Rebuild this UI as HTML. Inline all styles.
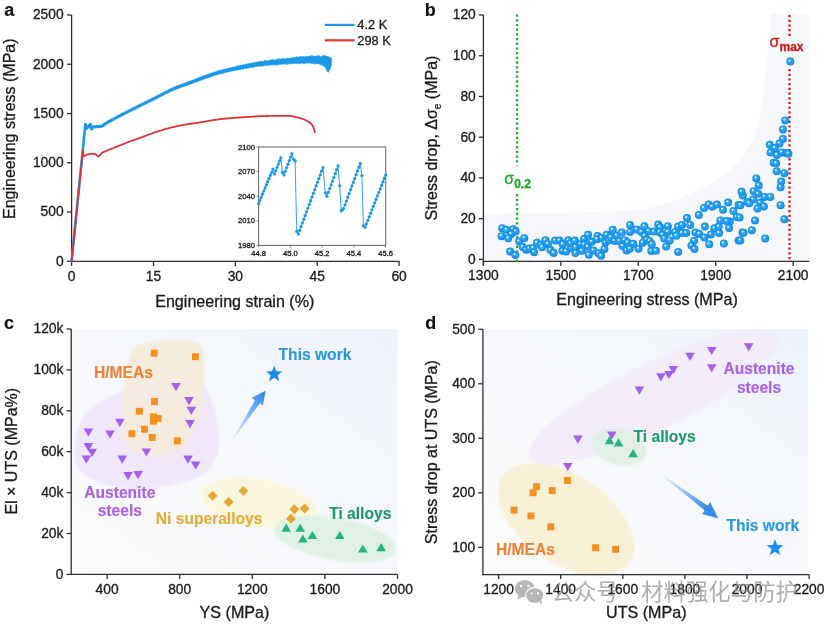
<!DOCTYPE html>
<html><head><meta charset="utf-8"><style>
html,body{margin:0;padding:0;background:#fff;overflow:hidden;width:827px;height:625px;}
svg{display:block;font-family:'Liberation Sans', Arial, Helvetica, sans-serif;}
</style></head><body>
<svg width="827" height="625" viewBox="0 0 827 625">
<rect width="827" height="625" fill="#fff"/>
<defs>
<radialGradient id="sph" cx="0.5" cy="0.5" r="0.5" fx="0.36" fy="0.33">
<stop offset="0" stop-color="#ffffff"/>
<stop offset="0.15" stop-color="#d8f1fe"/>
<stop offset="0.33" stop-color="#3aaaf4"/>
<stop offset="0.75" stop-color="#1a98ee"/>
<stop offset="1" stop-color="#1384e0"/>
</radialGradient>
<filter id="soft" x="-10%" y="-10%" width="120%" height="120%"><feGaussianBlur stdDeviation="0.9"/></filter>
<linearGradient id="bgc" x1="0" y1="1" x2="1" y2="0">
<stop offset="0" stop-color="#fbfbfc"/>
<stop offset="0.5" stop-color="#f6f8fb"/>
<stop offset="1" stop-color="#eef3fb"/>
</linearGradient>
<linearGradient id="bgd" x1="0" y1="1" x2="1" y2="0">
<stop offset="0" stop-color="#fbfbfc"/>
<stop offset="0.5" stop-color="#f6f8fb"/>
<stop offset="1" stop-color="#eef3fb"/>
</linearGradient>
<linearGradient id="arc" gradientUnits="userSpaceOnUse" x1="230" y1="443.5" x2="262" y2="396">
<stop offset="0" stop-color="#4a98ec" stop-opacity="0"/>
<stop offset="1" stop-color="#3a8eea" stop-opacity="1"/>
</linearGradient>
<linearGradient id="ard" gradientUnits="userSpaceOnUse" x1="658" y1="472" x2="705" y2="508">
<stop offset="0" stop-color="#4a98ec" stop-opacity="0"/>
<stop offset="1" stop-color="#3a8eea" stop-opacity="1"/>
</linearGradient>
</defs>
<text x="4.3" y="16.1" font-size="18" text-anchor="start" font-weight="bold" fill="#111" stroke="#111" stroke-width="0.15" >a</text>
<line x1="71.6" y1="15" x2="71.6" y2="262" stroke="#2e2e2e" stroke-width="1.3" />
<line x1="71" y1="261.4" x2="399.68" y2="261.4" stroke="#2e2e2e" stroke-width="1.3" />
<line x1="67" y1="261.3" x2="71.6" y2="261.3" stroke="#2e2e2e" stroke-width="1.3" />
<text x="63.6" y="265.6" font-size="13.8" text-anchor="end" font-weight="normal" fill="#1a1a1a" stroke="#1a1a1a" stroke-width="0.3" >0</text>
<line x1="67" y1="212.04" x2="71.6" y2="212.04" stroke="#2e2e2e" stroke-width="1.3" />
<text x="63.6" y="216.34" font-size="13.8" text-anchor="end" font-weight="normal" fill="#1a1a1a" stroke="#1a1a1a" stroke-width="0.3" >500</text>
<line x1="67" y1="162.77" x2="71.6" y2="162.77" stroke="#2e2e2e" stroke-width="1.3" />
<text x="63.6" y="167.07" font-size="13.8" text-anchor="end" font-weight="normal" fill="#1a1a1a" stroke="#1a1a1a" stroke-width="0.3" >1000</text>
<line x1="67" y1="113.51" x2="71.6" y2="113.51" stroke="#2e2e2e" stroke-width="1.3" />
<text x="63.6" y="117.81" font-size="13.8" text-anchor="end" font-weight="normal" fill="#1a1a1a" stroke="#1a1a1a" stroke-width="0.3" >1500</text>
<line x1="67" y1="64.24" x2="71.6" y2="64.24" stroke="#2e2e2e" stroke-width="1.3" />
<text x="63.6" y="68.54" font-size="13.8" text-anchor="end" font-weight="normal" fill="#1a1a1a" stroke="#1a1a1a" stroke-width="0.3" >2000</text>
<line x1="67" y1="14.98" x2="71.6" y2="14.98" stroke="#2e2e2e" stroke-width="1.3" />
<text x="63.6" y="19.28" font-size="13.8" text-anchor="end" font-weight="normal" fill="#1a1a1a" stroke="#1a1a1a" stroke-width="0.3" >2500</text>
<line x1="71.6" y1="261.4" x2="71.6" y2="265.9" stroke="#2e2e2e" stroke-width="1.3" />
<text x="71.6" y="280.6" font-size="13.8" text-anchor="middle" font-weight="normal" fill="#1a1a1a" stroke="#1a1a1a" stroke-width="0.3" >0</text>
<line x1="153.47" y1="261.4" x2="153.47" y2="265.9" stroke="#2e2e2e" stroke-width="1.3" />
<text x="153.47" y="280.6" font-size="13.8" text-anchor="middle" font-weight="normal" fill="#1a1a1a" stroke="#1a1a1a" stroke-width="0.3" >15</text>
<line x1="235.34" y1="261.4" x2="235.34" y2="265.9" stroke="#2e2e2e" stroke-width="1.3" />
<text x="235.34" y="280.6" font-size="13.8" text-anchor="middle" font-weight="normal" fill="#1a1a1a" stroke="#1a1a1a" stroke-width="0.3" >30</text>
<line x1="317.21" y1="261.4" x2="317.21" y2="265.9" stroke="#2e2e2e" stroke-width="1.3" />
<text x="317.21" y="280.6" font-size="13.8" text-anchor="middle" font-weight="normal" fill="#1a1a1a" stroke="#1a1a1a" stroke-width="0.3" >45</text>
<line x1="399.08" y1="261.4" x2="399.08" y2="265.9" stroke="#2e2e2e" stroke-width="1.3" />
<text x="399.08" y="280.6" font-size="13.8" text-anchor="middle" font-weight="normal" fill="#1a1a1a" stroke="#1a1a1a" stroke-width="0.3" >60</text>
<text x="234.8" y="306.6" font-size="16.1" text-anchor="middle" font-weight="normal" fill="#1a1a1a" stroke="#1a1a1a" stroke-width="0.3" >Engineering strain (%)</text>
<text transform="translate(15.2,128.7) rotate(-90)" font-size="16" text-anchor="middle" fill="#1a1a1a" stroke="#1a1a1a" stroke-width="0.3">Engineering stress (MPa)</text>
<line x1="324.8" y1="24.9" x2="354.6" y2="24.9" stroke="#1e96e6" stroke-width="2.2" />
<line x1="324.8" y1="40.3" x2="354.6" y2="40.3" stroke="#d93636" stroke-width="2.2" />
<text x="357.3" y="29.2" font-size="12.8" text-anchor="start" font-weight="normal" fill="#1a1a1a" stroke="#1a1a1a" stroke-width="0.3" >4.2 K</text>
<text x="357.3" y="44.6" font-size="12.8" text-anchor="start" font-weight="normal" fill="#1a1a1a" stroke="#1a1a1a" stroke-width="0.3" >298 K</text>
<line x1="71.6" y1="261.3" x2="85.3" y2="124.6" stroke="#1c98e8" stroke-width="2.6" stroke-linecap="round"/>
<polyline points="85.3,124.6 86.2,128.6 88.3,126.6 90.4,124.4 91.5,129 93.2,127 96,126.6 99.5,126.4 102.4,126 104.2,124.6" fill="none" stroke="#1c98e8" stroke-width="3.1" stroke-linejoin="round" stroke-linecap="round"/>
<polygon points="103.5,123.19 103.85,122.92 104.24,122.73 104.69,122.55 105.2,122.26 105.77,121.94 106.43,121.52 107.18,121.15 108.01,120.59 108.95,120.1 110,119.37 110.45,119.19 110.91,119.11 111.39,118.83 111.89,118.58 112.4,118.21 112.92,117.95 113.46,117.73 114.01,117.32 114.58,117.1 115.16,116.76 115.76,116.33 116.37,116.14 117,115.75 117.64,115.35 118.29,114.89 118.96,114.73 119.64,114.4 120.34,114.04 121.05,113.52 121.77,113.09 122.51,112.77 123.26,112.42 124.03,111.93 124.81,111.65 125.6,111.29 126.11,110.93 126.62,110.6 127.15,110.46 127.69,110.22 128.24,109.94 128.8,109.66 129.37,109.37 129.94,109.05 130.53,108.79 131.12,108.42 131.72,108.02 132.32,107.87 132.94,107.55 133.55,107.04 134.18,106.95 134.8,106.63 135.43,106.24 136.07,106.01 136.71,105.66 137.35,105.14 137.99,104.98 138.64,104.62 139.29,104.2 139.93,103.89 140.58,103.72 141.23,103.44 141.87,103.12 142.52,102.79 143.16,102.45 143.81,102.16 144.45,101.83 145.08,101.52 145.71,101.11 146.34,100.88 146.97,100.55 147.59,100.09 148.2,99.91 148.81,99.66 149.41,99.33 150,98.89 150.62,98.75 151.25,98.36 151.88,98.04 152.52,97.72 153.15,97.28 153.79,97.13 154.44,96.81 155.08,96.42 155.72,96.13 156.37,95.67 157.01,95.32 157.66,95 158.3,94.83 158.95,94.48 159.59,94.19 160.23,93.84 160.86,93.31 161.5,92.99 162.12,92.66 162.75,92.56 163.37,92.25 163.99,91.85 164.6,91.46 165.2,91.22 165.8,91.03 166.39,90.53 166.98,90.3 167.56,90.15 168.12,89.85 168.68,89.36 169.24,89.29 169.78,88.93 170.31,88.8 170.83,88.35 171.34,88.31 171.84,87.84 172.33,87.82 172.8,87.63 173.62,87.02 174.4,86.84 175.14,86.55 175.84,86.13 176.5,86.01 177.14,85.75 177.75,85.51 178.33,85.3 178.9,85.07 179.45,84.81 179.99,84.66 180.53,84.45 181.06,84.26 181.59,84.09 182.12,83.96 182.66,83.76 183.21,83.44 183.77,83.34 184.36,83.07 184.97,82.92 185.6,82.67 186.17,82.31 186.75,82.16 187.34,81.8 187.94,81.69 188.54,81.48 189.14,81.26 189.76,81.02 190.37,80.72 190.99,80.38 191.61,80.29 192.23,79.95 192.85,79.89 193.47,79.65 194.09,79.41 194.71,79.03 195.32,78.94 195.93,78.6 196.53,78.29 197.13,78.24 197.72,77.99 198.3,77.57 198.88,77.59 199.44,77.31 200,77.16 200.65,76.8 201.3,76.61 201.93,76.46 202.55,76.12 203.17,75.99 203.78,75.59 204.38,75.54 204.97,75.32 205.56,75.08 206.15,74.83 206.73,74.46 207.32,74.46 207.9,74.15 208.48,74.04 209.06,73.68 209.64,73.64 210.22,73.3 210.81,73.23 211.4,73.04 212,72.76 212.6,72.53 213.2,72.42 213.8,72.15 214.4,72.07 215,71.88 215.6,71.66 216.2,71.28 216.8,71.23 217.4,71.11 218,70.95 218.6,70.57 219.2,70.62 219.8,70.07 220.4,69.99 221,70.01 221.6,69.89 222.2,69.57 222.8,69.57 223.4,69.23 224,69.23 224.6,69.15 225.19,68.99 225.78,68.81 226.37,68.69 226.95,68.15 227.54,68.35 228.12,68.2 228.7,68.09 229.29,67.92 229.88,67.3 230.46,67.64 231.06,67.48 231.65,67.4 232.25,67.13 232.86,67.09 233.47,66.98 234.09,66.83 234.72,66.7 235.35,66.5 236,66.21 236.57,65.94 237.15,65.85 237.74,65.94 238.34,65.3 238.95,65.45 239.56,65.65 240.18,65.01 240.8,65.05 241.43,65.26 242.05,64.97 242.68,64.58 243.32,64.66 243.95,64.44 244.57,64.6 245.2,64.5 245.82,64.38 246.44,64.05 247.05,63.87 247.66,63.86 248.26,63.46 248.85,63.62 249.43,63.38 250,63.18 250.65,63.46 251.28,62.94 251.91,62.81 252.53,62.92 253.14,62.82 253.75,62.42 254.35,62.44 254.94,62.64 255.54,62.11 256.12,62.19 256.71,62.34 257.3,61.87 257.88,61.76 258.46,61.82 259.05,61.76 259.63,61.18 260.22,60.95 260.81,61.66 261.4,60.99 262,61.31 262.6,61.35 263.2,61.26 263.8,61.19 264.4,60.32 265,60.45 265.6,60.26 266.2,60.84 266.8,60.59 267.4,60.73 268,60.47 268.6,60.57 269.2,60.42 269.8,60.44 270.4,59.71 271,59.49 271.6,59.46 272.2,60.03 272.8,59.13 273.4,59.9 274,59.89 274.59,59.88 275.16,59.75 275.73,59.71 276.28,59.45 276.82,59.51 277.35,58.8 277.89,59.13 278.43,58.58 278.97,58.9 279.51,58.82 280.07,58.73 280.64,59.18 281.22,58.3 281.83,58.91 282.45,58.99 283.1,58 283.78,58.49 284.48,58.55 285.22,58.79 286,58.69 286.49,58.42 287.01,57.73 287.54,58.36 288.09,58.49 288.66,58.34 289.25,58.35 289.85,57.99 290.46,57.65 291.08,58.02 291.71,57.98 292.36,58.07 293,56.91 293.66,57.63 294.32,56.98 294.98,57.7 295.64,57.52 296.31,56.55 296.97,56.65 297.63,57.49 298.28,56.45 298.93,56.93 299.58,57.1 300.21,56.38 300.84,55.99 301.45,57.08 302.05,56.7 302.64,55.87 303.21,56.4 303.77,56.62 304.31,56.83 304.83,56.72 305.32,56.21 305.8,56.69 306.63,56.12 307.42,56.57 308.18,56.18 308.91,56.31 309.6,56 310.27,56.34 310.9,55.21 311.51,55.39 312.1,56.36 312.66,55.18 313.21,56.31 313.73,56.1 314.24,56.21 314.74,55.84 315.22,56.39 315.69,56.31 316.15,55.82 316.6,55.59 317.57,56.14 318.46,55.19 319.26,55.6 319.98,56.52 320.61,56.51 321.16,56.32 321.62,56.63 322,56.08 324,55.2 326,55.8 328,56.6 330,57.2 331.7,58.4 331.7,64.8 330.4,68 329,71.4 328.1,72.6 327,71 325.5,68 324,66.2 322,65.38 321.62,64.28 321.16,64.03 320.61,65.21 319.98,64.66 319.26,63.83 318.46,63.81 317.57,63.65 316.6,64.28 316.15,63.54 315.69,63.7 315.22,63.41 314.74,64.54 314.24,63.41 313.73,63.89 313.21,63.22 312.66,63.85 312.1,63.21 311.51,63.39 310.9,63.6 310.27,63.29 309.6,62.97 308.91,63.01 308.18,63.37 307.42,62.91 306.63,63.53 305.8,62.97 305.32,63.01 304.83,63.98 304.31,63.69 303.77,63.32 303.21,63.69 302.64,63.62 302.05,63.57 301.45,63.04 300.84,63.12 300.21,63.97 299.58,64.15 298.93,63.13 298.28,63.43 297.63,63.8 296.97,63.23 296.31,64.12 295.64,63.53 294.98,63.4 294.32,63.42 293.66,63.87 293,63.46 292.36,63.56 291.71,63.64 291.08,63.86 290.46,63.77 289.85,64.51 289.25,63.73 288.66,63.7 288.09,63.74 287.54,63.79 287.01,64.9 286.49,63.88 286,64.76 285.22,63.93 284.48,64.12 283.78,64.09 283.1,64.11 282.45,64.65 281.83,64.23 281.22,64.16 280.64,64.19 280.07,64.65 279.51,64.46 278.97,64.29 278.43,64.63 277.89,65.21 277.35,65.06 276.82,65.35 276.28,64.51 275.73,64.58 275.16,65.42 274.59,65.28 274,64.64 273.4,64.86 272.8,65.07 272.2,64.93 271.6,64.91 271,65.35 270.4,64.93 269.8,65.5 269.2,65.67 268.6,65.18 268,65.2 267.4,65.39 266.8,65.22 266.2,66 265.6,65.78 265,65.62 264.4,65.47 263.8,65.76 263.2,65.88 262.6,66.42 262,65.78 261.4,66.6 260.81,66.06 260.22,66.7 259.63,66.08 259.05,66.14 258.46,66.39 257.88,66.37 257.3,66.78 256.71,66.54 256.12,66.58 255.54,66.75 254.94,66.82 254.35,66.88 253.75,67.27 253.14,67.44 252.53,67.29 251.91,68.01 251.28,67.42 250.65,67.55 250,67.66 249.43,67.71 248.85,68.02 248.26,68.32 247.66,68.02 247.05,68.45 246.44,68.51 245.82,68.83 245.2,68.54 244.57,68.57 243.95,69.01 243.32,69.33 242.68,69.36 242.05,69.49 241.43,69.32 240.8,69.69 240.18,69.63 239.56,69.94 238.95,69.87 238.34,69.74 237.74,69.91 237.15,70.43 236.57,70.34 236,70.36 235.35,70.35 234.72,70.45 234.09,70.67 233.47,70.75 232.86,70.98 232.25,71.11 231.65,71.17 231.06,71.29 230.46,71.86 229.88,71.64 229.29,72.11 228.7,71.85 228.12,71.99 227.54,72.05 226.95,72.39 226.37,72.65 225.78,72.45 225.19,72.86 224.6,72.75 224,72.95 223.4,73.24 222.8,73.54 222.2,73.82 221.6,73.65 221,74.01 220.4,73.94 219.8,74.03 219.2,74.29 218.6,74.49 218,74.53 217.4,74.71 216.8,74.89 216.2,75.09 215.6,75.28 215,75.44 214.4,75.61 213.8,75.81 213.2,75.98 212.6,76.49 212,76.4 211.4,76.82 210.81,77.01 210.22,77.17 209.64,77.45 209.06,77.41 208.48,77.55 207.9,77.91 207.32,78.23 206.73,78.19 206.15,78.63 205.56,78.59 204.97,78.98 204.38,79.04 203.78,79.51 203.17,79.74 202.55,79.76 201.93,79.95 201.3,80.2 200.65,80.39 200,80.65 199.44,80.86 198.88,81.08 198.3,81.41 197.72,81.51 197.13,81.89 196.53,82.12 195.93,82.11 195.32,82.46 194.71,82.75 194.09,82.89 193.47,83.02 192.85,83.28 192.23,83.47 191.61,83.92 190.99,83.94 190.37,84.34 189.76,84.6 189.14,84.68 188.54,84.95 187.94,85.12 187.34,85.32 186.75,85.63 186.17,85.77 185.6,85.94 184.97,86.23 184.36,86.52 183.77,86.64 183.21,86.85 182.66,87.01 182.12,87.3 181.59,87.33 181.06,87.49 180.53,87.74 179.99,88.07 179.45,88.25 178.9,88.3 178.33,88.66 177.75,88.72 177.14,89 176.5,89.19 175.84,89.45 175.14,89.92 174.4,90.27 173.62,90.5 172.8,90.77 172.33,91.06 171.84,91.32 171.34,91.61 170.83,91.85 170.31,91.94 169.78,92.2 169.24,92.68 168.68,92.76 168.12,93.16 167.56,93.43 166.98,93.62 166.39,94 165.8,94.25 165.2,94.6 164.6,94.81 163.99,95.26 163.37,95.38 162.75,95.69 162.12,96.03 161.5,96.56 160.86,96.69 160.23,97.08 159.59,97.3 158.95,97.61 158.3,98.01 157.66,98.4 157.01,98.76 156.37,99.16 155.72,99.26 155.08,99.73 154.44,100.05 153.79,100.26 153.15,100.67 152.52,101.11 151.88,101.19 151.25,101.52 150.62,102.05 150,102.14 149.41,102.45 148.81,102.74 148.2,103.09 147.59,103.59 146.97,103.65 146.34,103.99 145.71,104.27 145.08,104.77 144.45,104.93 143.81,105.22 143.16,105.53 142.52,105.86 141.87,106.17 141.23,106.59 140.58,106.85 139.93,107.29 139.29,107.61 138.64,107.78 137.99,108.19 137.35,108.53 136.71,108.81 136.07,109.09 135.43,109.38 134.8,109.74 134.18,110.01 133.55,110.31 132.94,110.81 132.32,110.96 131.72,111.41 131.12,111.71 130.53,111.87 129.94,112.3 129.37,112.41 128.8,112.83 128.24,112.97 127.69,113.3 127.15,113.63 126.62,113.81 126.11,114.3 125.6,114.43 124.81,114.82 124.03,115.34 123.26,115.56 122.51,115.99 121.77,116.31 121.05,116.75 120.34,117.15 119.64,117.47 118.96,117.91 118.29,118.13 117.64,118.49 117,119.01 116.37,119.23 115.76,119.6 115.16,119.82 114.58,120.2 114.01,120.47 113.46,120.73 112.92,121.01 112.4,121.33 111.89,121.65 111.39,122 110.91,122.1 110.45,122.37 110,122.59 108.95,123.19 108.01,123.89 107.18,124.14 106.43,124.71 105.77,124.9 105.2,125.27 104.69,125.58 104.24,125.8 103.85,125.99 103.5,126.19" fill="#1c98e8" stroke="#1c98e8" stroke-width="0.4" stroke-linejoin="round"/>
<polyline points="71.6,261.3 83,150 83.6,156 83.99,156.22 84.47,156.03 85.04,155.62 85.72,155.15 86.5,154.8 86.91,154.69 87.37,154.57 87.86,154.44 88.39,154.32 88.93,154.19 89.48,154.07 90.03,153.96 90.57,153.87 91.08,153.79 91.56,153.73 92,153.7 92.62,153.7 93.19,153.73 93.71,153.81 94.21,153.92 94.68,154.06 95.14,154.22 95.6,154.4 96.22,154.79 96.79,155.33 97.34,155.86 97.91,156.24 98.5,156.3 99.07,156 99.69,155.43 100.33,154.72 100.93,153.98 101.44,153.33 101.8,152.9 102.09,152.77 102.45,152.61 102.86,152.42 103.33,152.21 103.84,151.98 104.38,151.74 104.94,151.48 105.53,151.22 106.13,150.95 106.73,150.69 107.32,150.42 107.9,150.17 108.47,149.93 109,149.7 109.52,149.48 110.04,149.27 110.56,149.06 111.08,148.85 111.6,148.64 112.13,148.43 112.65,148.22 113.17,148.02 113.7,147.82 114.22,147.61 114.74,147.41 115.26,147.21 115.78,147 116.3,146.8 116.82,146.6 117.33,146.4 117.85,146.2 118.36,146 118.87,145.8 119.39,145.6 119.9,145.4 120.41,145.2 120.93,145 121.44,144.8 121.95,144.6 122.47,144.4 122.98,144.2 123.5,144 124.01,143.8 124.52,143.59 125.02,143.39 125.52,143.19 126.02,142.98 126.52,142.78 127.03,142.57 127.53,142.37 128.05,142.16 128.57,141.95 129.11,141.74 129.66,141.53 130.22,141.32 130.8,141.1 131.26,140.93 131.71,140.77 132.16,140.61 132.61,140.45 133.07,140.29 133.53,140.14 133.99,139.98 134.47,139.82 134.95,139.66 135.44,139.49 135.95,139.32 136.47,139.14 137.01,138.96 137.56,138.76 138.14,138.56 138.73,138.35 139.35,138.13 140,137.9 140.41,137.75 140.84,137.59 141.28,137.43 141.73,137.26 142.19,137.09 142.66,136.91 143.13,136.73 143.62,136.54 144.11,136.35 144.61,136.16 145.11,135.97 145.62,135.77 146.14,135.57 146.66,135.37 147.18,135.17 147.71,134.97 148.23,134.77 148.76,134.57 149.29,134.37 149.82,134.18 150.35,133.98 150.88,133.78 151.41,133.59 151.93,133.4 152.46,133.21 152.97,133.03 153.49,132.85 154,132.67 154.5,132.5 155,132.33 155.5,132.16 156,132 156.5,131.83 157,131.67 157.5,131.5 158,131.34 158.5,131.18 159,131.02 159.5,130.86 160,130.7 160.5,130.55 161,130.39 161.5,130.24 162,130.09 162.5,129.94 163,129.79 163.5,129.64 164,129.49 164.5,129.34 165,129.2 165.5,129.06 166,128.92 166.5,128.78 167,128.64 167.5,128.5 168,128.37 168.5,128.23 169,128.1 169.5,127.97 170,127.84 170.49,127.72 170.98,127.59 171.48,127.47 171.97,127.35 172.46,127.23 172.94,127.11 173.43,127 173.92,126.88 174.41,126.77 174.9,126.66 175.39,126.54 175.88,126.44 176.37,126.33 176.86,126.22 177.36,126.11 177.85,126.01 178.35,125.9 178.85,125.8 179.36,125.7 179.86,125.6 180.37,125.5 180.88,125.4 181.4,125.3 181.92,125.2 182.44,125.1 182.97,125 183.5,124.9 183.97,124.81 184.45,124.73 184.93,124.65 185.42,124.56 185.91,124.48 186.41,124.4 186.9,124.32 187.41,124.25 187.91,124.17 188.42,124.09 188.93,124.01 189.44,123.94 189.95,123.86 190.46,123.79 190.98,123.72 191.49,123.64 192.01,123.57 192.52,123.5 193.04,123.42 193.55,123.35 194.06,123.28 194.57,123.21 195.08,123.14 195.59,123.06 196.09,122.99 196.6,122.92 197.09,122.85 197.59,122.77 198.08,122.7 198.57,122.62 199.05,122.55 199.53,122.48 200,122.4 200.53,122.31 201.06,122.23 201.58,122.14 202.1,122.05 202.62,121.96 203.13,121.87 203.64,121.78 204.14,121.69 204.65,121.59 205.15,121.5 205.65,121.41 206.14,121.32 206.64,121.23 207.13,121.14 207.62,121.05 208.11,120.96 208.6,120.87 209.09,120.78 209.58,120.7 210.07,120.61 210.56,120.52 211.04,120.44 211.53,120.36 212.02,120.28 212.52,120.2 213.01,120.12 213.5,120.05 214,119.97 214.5,119.9 215,119.83 215.5,119.76 216,119.69 216.5,119.63 217,119.56 217.5,119.5 218,119.44 218.5,119.38 219,119.32 219.5,119.26 220,119.21 220.5,119.15 221,119.09 221.5,119.04 222,118.99 222.5,118.93 223,118.88 223.5,118.83 224,118.78 224.5,118.73 225,118.68 225.5,118.63 226,118.58 226.5,118.54 227,118.49 227.5,118.44 228,118.39 228.5,118.35 229,118.3 229.5,118.25 230,118.21 230.49,118.16 230.98,118.12 231.48,118.08 231.97,118.04 232.46,118 232.94,117.96 233.43,117.92 233.92,117.88 234.41,117.84 234.9,117.8 235.39,117.77 235.88,117.73 236.37,117.69 236.86,117.66 237.36,117.62 237.85,117.59 238.35,117.55 238.85,117.52 239.36,117.48 239.86,117.45 240.37,117.41 240.88,117.38 241.4,117.34 241.92,117.31 242.44,117.27 242.97,117.24 243.5,117.2 243.97,117.17 244.45,117.14 244.93,117.1 245.42,117.07 245.91,117.04 246.41,117 246.9,116.97 247.41,116.94 247.91,116.9 248.42,116.87 248.93,116.83 249.44,116.8 249.95,116.77 250.46,116.73 250.98,116.7 251.49,116.67 252.01,116.63 252.52,116.6 253.04,116.57 253.55,116.54 254.06,116.51 254.57,116.48 255.08,116.45 255.59,116.42 256.09,116.39 256.6,116.36 257.09,116.34 257.59,116.31 258.08,116.29 258.57,116.26 259.05,116.24 259.53,116.22 260,116.2 260.53,116.18 261.06,116.16 261.58,116.14 262.1,116.12 262.62,116.1 263.13,116.09 263.64,116.07 264.14,116.06 264.65,116.05 265.15,116.03 265.65,116.02 266.14,116.01 266.64,116 267.13,115.99 267.62,115.98 268.11,115.98 268.6,115.97 269.09,115.96 269.58,115.95 270.07,115.95 270.56,115.94 271.04,115.94 271.53,115.93 272.02,115.93 272.52,115.92 273.01,115.92 273.5,115.91 274,115.91 274.5,115.9 275,115.89 275.52,115.89 276.03,115.88 276.56,115.87 277.09,115.87 277.62,115.86 278.16,115.85 278.7,115.84 279.24,115.83 279.78,115.83 280.32,115.82 280.86,115.81 281.4,115.81 281.93,115.8 282.46,115.8 282.99,115.79 283.51,115.79 284.03,115.79 284.53,115.79 285.03,115.79 285.52,115.8 286,115.8 286.47,115.81 286.93,115.82 287.37,115.83 287.8,115.84 288.22,115.86 288.62,115.88 289,115.9 289.74,115.95 290.42,116.01 291.04,116.08 291.61,116.16 292.14,116.24 292.64,116.33 293.11,116.43 293.56,116.53 294,116.63 294.43,116.74 294.87,116.85 295.33,116.97 295.8,117.08 296.3,117.2 296.82,117.32 297.36,117.45 297.9,117.58 298.44,117.71 298.99,117.85 299.53,117.99 300.08,118.14 300.61,118.29 301.13,118.43 301.64,118.59 302.14,118.74 302.61,118.89 303.07,119.05 303.5,119.2 304.13,119.44 304.71,119.7 305.26,119.96 305.78,120.22 306.26,120.49 306.73,120.75 307.17,121.01 307.59,121.26 308,121.5 308.68,121.88 309.26,122.22 309.79,122.55 310.29,122.93 310.8,123.4 311.45,124.1 312.08,124.88 312.67,125.77 313.2,126.8 313.85,128.68 314.41,130.8 314.8,132.3" fill="none" stroke="#dc3434" stroke-width="1.8" stroke-linejoin="round" stroke-linecap="round"/>
<rect x="258.6" y="147.0" width="127.1" height="98.4" fill="#fff" stroke="#707070" stroke-width="1.1"/>
<line x1="256.6" y1="245.4" x2="258.6" y2="245.4" stroke="#666" stroke-width="0.9" />
<text x="255" y="247.9" font-size="7.6" text-anchor="end" font-weight="normal" fill="#1a1a1a" stroke="#1a1a1a" stroke-width="0.3" >1980</text>
<line x1="256.6" y1="220.8" x2="258.6" y2="220.8" stroke="#666" stroke-width="0.9" />
<text x="255" y="223.3" font-size="7.6" text-anchor="end" font-weight="normal" fill="#1a1a1a" stroke="#1a1a1a" stroke-width="0.3" >2010</text>
<line x1="256.6" y1="196.2" x2="258.6" y2="196.2" stroke="#666" stroke-width="0.9" />
<text x="255" y="198.7" font-size="7.6" text-anchor="end" font-weight="normal" fill="#1a1a1a" stroke="#1a1a1a" stroke-width="0.3" >2040</text>
<line x1="256.6" y1="171.6" x2="258.6" y2="171.6" stroke="#666" stroke-width="0.9" />
<text x="255" y="174.1" font-size="7.6" text-anchor="end" font-weight="normal" fill="#1a1a1a" stroke="#1a1a1a" stroke-width="0.3" >2070</text>
<line x1="256.6" y1="147" x2="258.6" y2="147" stroke="#666" stroke-width="0.9" />
<text x="255" y="149.5" font-size="7.6" text-anchor="end" font-weight="normal" fill="#1a1a1a" stroke="#1a1a1a" stroke-width="0.3" >2100</text>
<line x1="258.6" y1="245.4" x2="258.6" y2="247.4" stroke="#666" stroke-width="0.9" />
<text x="258.6" y="255.6" font-size="7.6" text-anchor="middle" font-weight="normal" fill="#1a1a1a" stroke="#1a1a1a" stroke-width="0.3" >44.8</text>
<line x1="290.38" y1="245.4" x2="290.38" y2="247.4" stroke="#666" stroke-width="0.9" />
<text x="290.38" y="255.6" font-size="7.6" text-anchor="middle" font-weight="normal" fill="#1a1a1a" stroke="#1a1a1a" stroke-width="0.3" >45.0</text>
<line x1="322.15" y1="245.4" x2="322.15" y2="247.4" stroke="#666" stroke-width="0.9" />
<text x="322.15" y="255.6" font-size="7.6" text-anchor="middle" font-weight="normal" fill="#1a1a1a" stroke="#1a1a1a" stroke-width="0.3" >45.2</text>
<line x1="353.93" y1="245.4" x2="353.93" y2="247.4" stroke="#666" stroke-width="0.9" />
<text x="353.93" y="255.6" font-size="7.6" text-anchor="middle" font-weight="normal" fill="#1a1a1a" stroke="#1a1a1a" stroke-width="0.3" >45.4</text>
<line x1="385.7" y1="245.4" x2="385.7" y2="247.4" stroke="#666" stroke-width="0.9" />
<text x="385.7" y="255.6" font-size="7.6" text-anchor="middle" font-weight="normal" fill="#1a1a1a" stroke="#1a1a1a" stroke-width="0.3" >45.6</text>
<polyline points="258.6,203.58 259.9,200.45 261.2,197.32 262.5,194.19 263.8,191.06 265.1,187.93 266.4,184.79 267.7,181.66 269,178.53 270.3,175.4 271.6,172.27 272.9,169.14 274.49,174.06 275.76,170.78 277.03,167.5 278.3,164.22 279.57,160.94 280.84,157.66 282.43,172.42 284.02,174.88 285.34,171.33 286.67,167.77 287.99,164.22 289.32,160.67 290.64,157.11 291.96,153.56 293.55,159.3 295.14,160.94 296.73,231.46 298.32,233.92 299.69,230.23 301.05,226.54 302.42,222.85 303.79,219.16 305.16,215.47 306.53,211.78 307.9,208.09 309.26,204.4 310.63,200.71 312,197.02 313.37,193.33 314.74,189.64 316.1,185.95 317.47,182.26 318.84,178.57 320.21,174.88 321.58,171.19 322.94,167.5 325.33,192.92 326.92,196.2 328.31,192.41 329.7,188.62 331.09,184.82 332.48,181.03 333.87,177.24 335.26,173.44 336.65,169.65 338.04,165.86 339.63,185.54 341.22,210.96 342.41,209.73 343.6,208.5 344.99,204.74 346.38,200.98 347.77,197.22 349.16,193.47 350.55,189.71 351.94,185.95 353.33,182.19 354.72,178.43 356.11,174.68 357.5,170.92 358.89,167.16 360.28,163.4 361.87,175.7 363.46,225.72 365.05,227.36 366.42,223.86 367.8,220.36 369.18,216.86 370.55,213.37 371.93,209.87 373.31,206.37 374.68,202.87 376.06,199.37 377.44,195.87 378.82,192.37 380.19,188.87 381.57,185.38 382.95,181.88 384.32,178.38 385.7,174.88" fill="none" stroke="#1c98e8" stroke-width="0.9"/>
<g fill="#1c98e8"><circle cx="258.6" cy="203.58" r="1.6"/><circle cx="259.9" cy="200.45" r="1.6"/><circle cx="261.2" cy="197.32" r="1.6"/><circle cx="262.5" cy="194.19" r="1.6"/><circle cx="263.8" cy="191.06" r="1.6"/><circle cx="265.1" cy="187.93" r="1.6"/><circle cx="266.4" cy="184.79" r="1.6"/><circle cx="267.7" cy="181.66" r="1.6"/><circle cx="269" cy="178.53" r="1.6"/><circle cx="270.3" cy="175.4" r="1.6"/><circle cx="271.6" cy="172.27" r="1.6"/><circle cx="272.9" cy="169.14" r="1.6"/><circle cx="274.49" cy="174.06" r="1.6"/><circle cx="275.76" cy="170.78" r="1.6"/><circle cx="277.03" cy="167.5" r="1.6"/><circle cx="278.3" cy="164.22" r="1.6"/><circle cx="279.57" cy="160.94" r="1.6"/><circle cx="280.84" cy="157.66" r="1.6"/><circle cx="282.43" cy="172.42" r="1.6"/><circle cx="284.02" cy="174.88" r="1.6"/><circle cx="285.34" cy="171.33" r="1.6"/><circle cx="286.67" cy="167.77" r="1.6"/><circle cx="287.99" cy="164.22" r="1.6"/><circle cx="289.32" cy="160.67" r="1.6"/><circle cx="290.64" cy="157.11" r="1.6"/><circle cx="291.96" cy="153.56" r="1.6"/><circle cx="293.55" cy="159.3" r="1.6"/><circle cx="295.14" cy="160.94" r="1.6"/><circle cx="296.73" cy="231.46" r="1.6"/><circle cx="298.32" cy="233.92" r="1.6"/><circle cx="299.69" cy="230.23" r="1.6"/><circle cx="301.05" cy="226.54" r="1.6"/><circle cx="302.42" cy="222.85" r="1.6"/><circle cx="303.79" cy="219.16" r="1.6"/><circle cx="305.16" cy="215.47" r="1.6"/><circle cx="306.53" cy="211.78" r="1.6"/><circle cx="307.9" cy="208.09" r="1.6"/><circle cx="309.26" cy="204.4" r="1.6"/><circle cx="310.63" cy="200.71" r="1.6"/><circle cx="312" cy="197.02" r="1.6"/><circle cx="313.37" cy="193.33" r="1.6"/><circle cx="314.74" cy="189.64" r="1.6"/><circle cx="316.1" cy="185.95" r="1.6"/><circle cx="317.47" cy="182.26" r="1.6"/><circle cx="318.84" cy="178.57" r="1.6"/><circle cx="320.21" cy="174.88" r="1.6"/><circle cx="321.58" cy="171.19" r="1.6"/><circle cx="322.94" cy="167.5" r="1.6"/><circle cx="325.33" cy="192.92" r="1.6"/><circle cx="326.92" cy="196.2" r="1.6"/><circle cx="328.31" cy="192.41" r="1.6"/><circle cx="329.7" cy="188.62" r="1.6"/><circle cx="331.09" cy="184.82" r="1.6"/><circle cx="332.48" cy="181.03" r="1.6"/><circle cx="333.87" cy="177.24" r="1.6"/><circle cx="335.26" cy="173.44" r="1.6"/><circle cx="336.65" cy="169.65" r="1.6"/><circle cx="338.04" cy="165.86" r="1.6"/><circle cx="339.63" cy="185.54" r="1.6"/><circle cx="341.22" cy="210.96" r="1.6"/><circle cx="342.41" cy="209.73" r="1.6"/><circle cx="343.6" cy="208.5" r="1.6"/><circle cx="344.99" cy="204.74" r="1.6"/><circle cx="346.38" cy="200.98" r="1.6"/><circle cx="347.77" cy="197.22" r="1.6"/><circle cx="349.16" cy="193.47" r="1.6"/><circle cx="350.55" cy="189.71" r="1.6"/><circle cx="351.94" cy="185.95" r="1.6"/><circle cx="353.33" cy="182.19" r="1.6"/><circle cx="354.72" cy="178.43" r="1.6"/><circle cx="356.11" cy="174.68" r="1.6"/><circle cx="357.5" cy="170.92" r="1.6"/><circle cx="358.89" cy="167.16" r="1.6"/><circle cx="360.28" cy="163.4" r="1.6"/><circle cx="361.87" cy="175.7" r="1.6"/><circle cx="363.46" cy="225.72" r="1.6"/><circle cx="365.05" cy="227.36" r="1.6"/><circle cx="366.42" cy="223.86" r="1.6"/><circle cx="367.8" cy="220.36" r="1.6"/><circle cx="369.18" cy="216.86" r="1.6"/><circle cx="370.55" cy="213.37" r="1.6"/><circle cx="371.93" cy="209.87" r="1.6"/><circle cx="373.31" cy="206.37" r="1.6"/><circle cx="374.68" cy="202.87" r="1.6"/><circle cx="376.06" cy="199.37" r="1.6"/><circle cx="377.44" cy="195.87" r="1.6"/><circle cx="378.82" cy="192.37" r="1.6"/><circle cx="380.19" cy="188.87" r="1.6"/><circle cx="381.57" cy="185.38" r="1.6"/><circle cx="382.95" cy="181.88" r="1.6"/><circle cx="384.32" cy="178.38" r="1.6"/><circle cx="385.7" cy="174.88" r="1.6"/></g>
<text x="424.8" y="16.1" font-size="18" text-anchor="start" font-weight="bold" fill="#111" stroke="#111" stroke-width="0.15" >b</text>
<path d="M483.5,261.4 L483.5,213.5 C489.58,213.5 507.25,213.58 520,213.5 C532.75,213.42 546.67,213.28 560,213 C573.33,212.72 586.67,212.38 600,211.8 C613.33,211.22 629.67,210.72 640,209.5 C650.33,208.28 655.33,206.42 662,204.5 C668.67,202.58 673.67,200.58 680,198 C686.33,195.42 693.33,192.33 700,189 C706.67,185.67 713.33,182.83 720,178 C726.67,173.17 735,165.5 740,160 C745,154.5 747.5,149.33 750,145 C752.5,140.67 753.5,138.17 755,134 C756.5,129.83 757.75,125.67 759,120 C760.25,114.33 761.5,106.67 762.5,100 C763.5,93.33 764.17,87.5 765,80 C765.83,72.5 766.38,66 767.5,55 C768.62,44 771,20.83 771.7,14 L808.6,14 L808.6,261.4 Z" fill="#f5f7fa"/>
<line x1="483.4" y1="15" x2="483.4" y2="266" stroke="#2e2e2e" stroke-width="1.3" />
<line x1="482.8" y1="261.4" x2="809.3" y2="261.4" stroke="#2e2e2e" stroke-width="1.3" />
<line x1="478.8" y1="259.4" x2="483.4" y2="259.4" stroke="#2e2e2e" stroke-width="1.3" />
<text x="475.8" y="263.7" font-size="13.8" text-anchor="end" font-weight="normal" fill="#1a1a1a" stroke="#1a1a1a" stroke-width="0.3" >0</text>
<line x1="478.8" y1="218.67" x2="483.4" y2="218.67" stroke="#2e2e2e" stroke-width="1.3" />
<text x="475.8" y="222.97" font-size="13.8" text-anchor="end" font-weight="normal" fill="#1a1a1a" stroke="#1a1a1a" stroke-width="0.3" >20</text>
<line x1="478.8" y1="177.93" x2="483.4" y2="177.93" stroke="#2e2e2e" stroke-width="1.3" />
<text x="475.8" y="182.23" font-size="13.8" text-anchor="end" font-weight="normal" fill="#1a1a1a" stroke="#1a1a1a" stroke-width="0.3" >40</text>
<line x1="478.8" y1="137.2" x2="483.4" y2="137.2" stroke="#2e2e2e" stroke-width="1.3" />
<text x="475.8" y="141.5" font-size="13.8" text-anchor="end" font-weight="normal" fill="#1a1a1a" stroke="#1a1a1a" stroke-width="0.3" >60</text>
<line x1="478.8" y1="96.46" x2="483.4" y2="96.46" stroke="#2e2e2e" stroke-width="1.3" />
<text x="475.8" y="100.76" font-size="13.8" text-anchor="end" font-weight="normal" fill="#1a1a1a" stroke="#1a1a1a" stroke-width="0.3" >80</text>
<line x1="478.8" y1="55.73" x2="483.4" y2="55.73" stroke="#2e2e2e" stroke-width="1.3" />
<text x="475.8" y="60.03" font-size="13.8" text-anchor="end" font-weight="normal" fill="#1a1a1a" stroke="#1a1a1a" stroke-width="0.3" >100</text>
<line x1="478.8" y1="15" x2="483.4" y2="15" stroke="#2e2e2e" stroke-width="1.3" />
<text x="475.8" y="19.3" font-size="13.8" text-anchor="end" font-weight="normal" fill="#1a1a1a" stroke="#1a1a1a" stroke-width="0.3" >120</text>
<line x1="483.4" y1="261.4" x2="483.4" y2="266" stroke="#2e2e2e" stroke-width="1.3" />
<text x="483.4" y="280.1" font-size="13.8" text-anchor="middle" font-weight="normal" fill="#1a1a1a" stroke="#1a1a1a" stroke-width="0.3" >1300</text>
<line x1="560.84" y1="261.4" x2="560.84" y2="266" stroke="#2e2e2e" stroke-width="1.3" />
<text x="560.84" y="280.1" font-size="13.8" text-anchor="middle" font-weight="normal" fill="#1a1a1a" stroke="#1a1a1a" stroke-width="0.3" >1500</text>
<line x1="638.28" y1="261.4" x2="638.28" y2="266" stroke="#2e2e2e" stroke-width="1.3" />
<text x="638.28" y="280.1" font-size="13.8" text-anchor="middle" font-weight="normal" fill="#1a1a1a" stroke="#1a1a1a" stroke-width="0.3" >1700</text>
<line x1="715.72" y1="261.4" x2="715.72" y2="266" stroke="#2e2e2e" stroke-width="1.3" />
<text x="715.72" y="280.1" font-size="13.8" text-anchor="middle" font-weight="normal" fill="#1a1a1a" stroke="#1a1a1a" stroke-width="0.3" >1900</text>
<line x1="793.16" y1="261.4" x2="793.16" y2="266" stroke="#2e2e2e" stroke-width="1.3" />
<text x="793.16" y="280.1" font-size="13.8" text-anchor="middle" font-weight="normal" fill="#1a1a1a" stroke="#1a1a1a" stroke-width="0.3" >2100</text>
<text x="647" y="305" font-size="16.1" text-anchor="middle" font-weight="normal" fill="#1a1a1a" stroke="#1a1a1a" stroke-width="0.3" >Engineering stress (MPa)</text>
<text transform="translate(437.2,220.4) rotate(-90)" font-size="16" fill="#1a1a1a" stroke="#1a1a1a" stroke-width="0.3">Stress drop, Δσ<tspan font-size="10" dy="4">e</tspan><tspan dy="-4"> (MPa)</tspan></text>
<line x1="517.1" y1="14.5" x2="517.1" y2="165.5" stroke="#1faa2a" stroke-width="2.3" stroke-dasharray="2.2 2.5"/>
<line x1="517.1" y1="194" x2="517.1" y2="262" stroke="#1faa2a" stroke-width="2.3" stroke-dasharray="2.2 2.5"/>
<line x1="789.5" y1="15" x2="789.5" y2="36" stroke="#c81e1e" stroke-width="2.3" stroke-dasharray="2.2 2.5"/>
<line x1="789.5" y1="69" x2="789.5" y2="259.5" stroke="#c81e1e" stroke-width="2.3" stroke-dasharray="2.2 2.5"/>
<text x="504.3" y="183.5" font-size="16" fill="#1faa2a" stroke="#1faa2a" stroke-width="0.35">σ<tspan font-size="12" font-weight="bold" dy="4.5">0.2</tspan></text>
<text x="769.6" y="47" font-size="16" fill="#c81e1e" stroke="#c81e1e" stroke-width="0.35">σ<tspan font-size="12" font-weight="bold" dy="3.6">max</tspan></text>
<g fill="url(#sph)"><circle cx="502.2" cy="228.2" r="4"/><circle cx="506.4" cy="229.8" r="4"/><circle cx="513.1" cy="229.2" r="4"/><circle cx="515.6" cy="231.4" r="4"/><circle cx="511.2" cy="234" r="4"/><circle cx="501.6" cy="236.2" r="4"/><circle cx="508.3" cy="238.2" r="4"/><circle cx="519.2" cy="241.4" r="4"/><circle cx="524.3" cy="238.2" r="4"/><circle cx="522.7" cy="247.1" r="4"/><circle cx="510.2" cy="251.6" r="4"/><circle cx="515.3" cy="255.1" r="4"/><circle cx="526.2" cy="249.7" r="4"/><circle cx="529.4" cy="248.6" r="4"/><circle cx="533.1" cy="247.9" r="4"/><circle cx="534.1" cy="252.2" r="4"/><circle cx="537" cy="242.8" r="4"/><circle cx="540.7" cy="245" r="4"/><circle cx="542.1" cy="247.2" r="4"/><circle cx="545.4" cy="240.3" r="4"/><circle cx="547.9" cy="243.9" r="4"/><circle cx="550.5" cy="250.1" r="4"/><circle cx="553.7" cy="253" r="4"/><circle cx="555.2" cy="240.6" r="4"/><circle cx="559.5" cy="240.6" r="4"/><circle cx="562.8" cy="244.2" r="4"/><circle cx="562.4" cy="250.8" r="4"/><circle cx="566.1" cy="251.5" r="4"/><circle cx="568.2" cy="240.3" r="4"/><circle cx="571.2" cy="248.2" r="4"/><circle cx="570.4" cy="243.5" r="4"/><circle cx="574.8" cy="240.6" r="4"/><circle cx="575.5" cy="247.2" r="4"/><circle cx="575.5" cy="253" r="4"/><circle cx="580.4" cy="244.2" r="4"/><circle cx="581.9" cy="250.8" r="4"/><circle cx="584.1" cy="238.8" r="4"/><circle cx="584.1" cy="244.6" r="4"/><circle cx="588.1" cy="234.8" r="4"/><circle cx="587.7" cy="246.8" r="4"/><circle cx="588.8" cy="254.8" r="4"/><circle cx="591.7" cy="241.7" r="4"/><circle cx="593.5" cy="250.4" r="4"/><circle cx="597.5" cy="235.9" r="4"/><circle cx="597.1" cy="239.2" r="4"/><circle cx="598.6" cy="253.3" r="4"/><circle cx="601.1" cy="255.8" r="4"/><circle cx="601.8" cy="238.1" r="4"/><circle cx="604.4" cy="249" r="4"/><circle cx="605.5" cy="242.4" r="4"/><circle cx="606.6" cy="234.8" r="4"/><circle cx="608.7" cy="240.2" r="4"/><circle cx="610.9" cy="237.3" r="4"/><circle cx="612.7" cy="229.7" r="4"/><circle cx="614.5" cy="241" r="4"/><circle cx="616.7" cy="235.5" r="4"/><circle cx="619.3" cy="241" r="4"/><circle cx="621.8" cy="232.6" r="4"/><circle cx="622.5" cy="246.1" r="4"/><circle cx="624.7" cy="240.2" r="4"/><circle cx="626.5" cy="250.4" r="4"/><circle cx="627.6" cy="242.4" r="4"/><circle cx="630.1" cy="225" r="4"/><circle cx="630.1" cy="231.9" r="4"/><circle cx="633.2" cy="243.8" r="4"/><circle cx="629.8" cy="248.8" r="4"/><circle cx="636.7" cy="229.6" r="4"/><circle cx="638.6" cy="248.8" r="4"/><circle cx="641.3" cy="231.9" r="4"/><circle cx="644.4" cy="226.2" r="4"/><circle cx="644.7" cy="235.8" r="4"/><circle cx="642.8" cy="242.7" r="4"/><circle cx="646.7" cy="239.6" r="4"/><circle cx="648.6" cy="231.2" r="4"/><circle cx="649.7" cy="241.2" r="4"/><circle cx="651.7" cy="244.2" r="4"/><circle cx="651.3" cy="251.1" r="4"/><circle cx="655.9" cy="250.8" r="4"/><circle cx="654" cy="231.6" r="4"/><circle cx="658.2" cy="224.6" r="4"/><circle cx="660.1" cy="227.3" r="4"/><circle cx="659.7" cy="232.3" r="4"/><circle cx="662.4" cy="234.6" r="4"/><circle cx="664.3" cy="238.5" r="4"/><circle cx="666.2" cy="246.5" r="4"/><circle cx="667.8" cy="226.2" r="4"/><circle cx="667.8" cy="231.9" r="4"/><circle cx="669.7" cy="240.4" r="4"/><circle cx="675.1" cy="231.9" r="4"/><circle cx="676.2" cy="235.8" r="4"/><circle cx="678.2" cy="251.9" r="4"/><circle cx="678.2" cy="226.6" r="4"/><circle cx="682" cy="225" r="4"/><circle cx="682" cy="233.1" r="4"/><circle cx="686.2" cy="233.1" r="4"/><circle cx="687" cy="218.1" r="4"/><circle cx="690.2" cy="224.9" r="4"/><circle cx="698.8" cy="214.9" r="4"/><circle cx="704" cy="208" r="4"/><circle cx="708.8" cy="204.5" r="4"/><circle cx="712.2" cy="206.7" r="4"/><circle cx="717" cy="204.5" r="4"/><circle cx="723" cy="209.7" r="4"/><circle cx="728.2" cy="202.4" r="4"/><circle cx="733.4" cy="211" r="4"/><circle cx="738.6" cy="205" r="4"/><circle cx="736.9" cy="217.1" r="4"/><circle cx="720.4" cy="220.5" r="4"/><circle cx="729.9" cy="221.4" r="4"/><circle cx="726.5" cy="221" r="4"/><circle cx="704.9" cy="226.6" r="4"/><circle cx="714.4" cy="228.3" r="4"/><circle cx="718.7" cy="226.6" r="4"/><circle cx="729.1" cy="227.9" r="4"/><circle cx="695.4" cy="232.6" r="4"/><circle cx="699.3" cy="233.9" r="4"/><circle cx="704.4" cy="237.4" r="4"/><circle cx="710.9" cy="234.4" r="4"/><circle cx="719.1" cy="233.1" r="4"/><circle cx="694.1" cy="240.8" r="4"/><circle cx="691.5" cy="245.6" r="4"/><circle cx="709.2" cy="244.3" r="4"/><circle cx="723.9" cy="243.4" r="4"/><circle cx="738.6" cy="240.4" r="4"/><circle cx="742.5" cy="232.6" r="4"/><circle cx="694.5" cy="249.1" r="4"/><circle cx="776.7" cy="171.3" r="4"/><circle cx="784.4" cy="173.2" r="4"/><circle cx="781.2" cy="181.6" r="4"/><circle cx="780.6" cy="187.3" r="4"/><circle cx="756.3" cy="178.4" r="4"/><circle cx="758.8" cy="185.4" r="4"/><circle cx="753.7" cy="191.2" r="4"/><circle cx="758.2" cy="193.7" r="4"/><circle cx="764.6" cy="196.9" r="4"/><circle cx="770.3" cy="196.9" r="4"/><circle cx="742.8" cy="195.6" r="4"/><circle cx="741.6" cy="191.8" r="4"/><circle cx="753.1" cy="199.5" r="4"/><circle cx="747.3" cy="202" r="4"/><circle cx="749.2" cy="203.3" r="4"/><circle cx="760.1" cy="202.7" r="4"/><circle cx="763.9" cy="206.5" r="4"/><circle cx="757.5" cy="208.4" r="4"/><circle cx="740.3" cy="205.2" r="4"/><circle cx="780.6" cy="205.2" r="4"/><circle cx="784.4" cy="219.3" r="4"/><circle cx="755" cy="220.6" r="4"/><circle cx="739.6" cy="217.4" r="4"/><circle cx="751.8" cy="230.2" r="4"/><circle cx="743.5" cy="232.7" r="4"/><circle cx="765.2" cy="238.5" r="4"/><circle cx="740.3" cy="240.4" r="4"/><circle cx="785.2" cy="120.5" r="4"/><circle cx="783" cy="129.4" r="4"/><circle cx="783" cy="139" r="4"/><circle cx="779.4" cy="143.5" r="4"/><circle cx="769.8" cy="144.8" r="4"/><circle cx="774.9" cy="148" r="4"/><circle cx="770.5" cy="152.4" r="4"/><circle cx="776.9" cy="155" r="4"/><circle cx="782" cy="152.4" r="4"/><circle cx="786.4" cy="153.1" r="4"/><circle cx="788.4" cy="153.7" r="4"/><circle cx="773.7" cy="162.7" r="4"/><circle cx="776.2" cy="163.3" r="4"/><circle cx="790.3" cy="61.6" r="4"/></g>
<text x="4.1" y="329.4" font-size="18" text-anchor="start" font-weight="bold" fill="#111" stroke="#111" stroke-width="0.15" >c</text>
<rect x="71.8" y="329" width="325.5" height="245.4" fill="url(#bgc)"/>
<g filter="url(#soft)">
<path d="M159.6,379.7 C171.55,378.42 189.48,378.98 197.7,381.3 C205.92,383.62 205.92,387.82 208.9,393.6 C211.88,399.38 213.92,407.78 215.6,416 C217.28,424.22 219.38,435.07 219,442.9 C218.62,450.73 216.48,457.4 213.3,463 C210.12,468.6 206.98,472.77 199.9,476.5 C192.82,480.23 181.25,483.35 170.8,485.4 C160.35,487.45 148.4,488.98 137.2,488.8 C126,488.62 113.3,487.48 103.6,484.3 C93.9,481.12 83.85,475.48 79,469.7 C74.15,463.92 74.5,457.05 74.5,449.6 C74.5,442.15 76.02,432.1 79,425 C81.98,417.9 84.57,413 92.4,407 C100.23,401 114.8,393.55 126,389 C137.2,384.45 147.65,380.98 159.6,379.7 Z" fill="#f0e7fb"/>
<path d="M133.8,348.5 C136.55,345.25 140.3,343.78 145,342.5 C149.7,341.22 156.17,341.12 162,340.8 C167.83,340.48 174.33,340.32 180,340.6 C185.67,340.88 192.25,341.1 196,342.5 C199.75,343.9 201.12,345.75 202.5,349 C203.88,352.25 204,356.83 204.3,362 C204.6,367.17 204.68,373.33 204.3,380 C203.92,386.67 203.22,394.67 202,402 C200.78,409.33 199,417.83 197,424 C195,430.17 193,434.67 190,439 C187,443.33 183.5,447.25 179,450 C174.5,452.75 168.67,454.75 163,455.5 C157.33,456.25 150.33,455.58 145,454.5 C139.67,453.42 134.58,451.75 131,449 C127.42,446.25 125,442.83 123.5,438 C122,433.17 122.08,426.33 122,420 C121.92,413.67 122.42,406.67 123,400 C123.58,393.33 124.58,386.33 125.5,380 C126.42,373.67 127.12,367.25 128.5,362 C129.88,356.75 131.05,351.75 133.8,348.5 Z" fill="#f6ead8" opacity="0.85"/>
<ellipse cx="259" cy="503" rx="60" ry="24" transform="rotate(10 259 503)" fill="#fbf7df"/>
<ellipse cx="335" cy="539" rx="62" ry="21" transform="rotate(10 335 539)" fill="#dff1e5"/>
</g>
<line x1="71.2" y1="329" x2="71.2" y2="575" stroke="#2e2e2e" stroke-width="1.3" />
<line x1="70.6" y1="574.4" x2="397.3" y2="574.4" stroke="#2e2e2e" stroke-width="1.3" />
<line x1="66.6" y1="574.4" x2="71.2" y2="574.4" stroke="#2e2e2e" stroke-width="1.3" />
<text x="63.4" y="578.7" font-size="13.8" text-anchor="end" font-weight="normal" fill="#1a1a1a" stroke="#1a1a1a" stroke-width="0.3" >0</text>
<line x1="66.6" y1="533.5" x2="71.2" y2="533.5" stroke="#2e2e2e" stroke-width="1.3" />
<text x="63.4" y="537.8" font-size="13.8" text-anchor="end" font-weight="normal" fill="#1a1a1a" stroke="#1a1a1a" stroke-width="0.3" >20k</text>
<line x1="66.6" y1="492.6" x2="71.2" y2="492.6" stroke="#2e2e2e" stroke-width="1.3" />
<text x="63.4" y="496.9" font-size="13.8" text-anchor="end" font-weight="normal" fill="#1a1a1a" stroke="#1a1a1a" stroke-width="0.3" >40k</text>
<line x1="66.6" y1="451.7" x2="71.2" y2="451.7" stroke="#2e2e2e" stroke-width="1.3" />
<text x="63.4" y="456" font-size="13.8" text-anchor="end" font-weight="normal" fill="#1a1a1a" stroke="#1a1a1a" stroke-width="0.3" >60k</text>
<line x1="66.6" y1="410.8" x2="71.2" y2="410.8" stroke="#2e2e2e" stroke-width="1.3" />
<text x="63.4" y="415.1" font-size="13.8" text-anchor="end" font-weight="normal" fill="#1a1a1a" stroke="#1a1a1a" stroke-width="0.3" >80k</text>
<line x1="66.6" y1="369.9" x2="71.2" y2="369.9" stroke="#2e2e2e" stroke-width="1.3" />
<text x="63.4" y="374.2" font-size="13.8" text-anchor="end" font-weight="normal" fill="#1a1a1a" stroke="#1a1a1a" stroke-width="0.3" >100k</text>
<line x1="66.6" y1="329" x2="71.2" y2="329" stroke="#2e2e2e" stroke-width="1.3" />
<text x="63.4" y="333.3" font-size="13.8" text-anchor="end" font-weight="normal" fill="#1a1a1a" stroke="#1a1a1a" stroke-width="0.3" >120k</text>
<line x1="107.1" y1="574.4" x2="107.1" y2="578.9" stroke="#2e2e2e" stroke-width="1.3" />
<text x="107.1" y="594.2" font-size="13.8" text-anchor="middle" font-weight="normal" fill="#1a1a1a" stroke="#1a1a1a" stroke-width="0.3" >400</text>
<line x1="179.7" y1="574.4" x2="179.7" y2="578.9" stroke="#2e2e2e" stroke-width="1.3" />
<text x="179.7" y="594.2" font-size="13.8" text-anchor="middle" font-weight="normal" fill="#1a1a1a" stroke="#1a1a1a" stroke-width="0.3" >800</text>
<line x1="252.3" y1="574.4" x2="252.3" y2="578.9" stroke="#2e2e2e" stroke-width="1.3" />
<text x="252.3" y="594.2" font-size="13.8" text-anchor="middle" font-weight="normal" fill="#1a1a1a" stroke="#1a1a1a" stroke-width="0.3" >1200</text>
<line x1="324.9" y1="574.4" x2="324.9" y2="578.9" stroke="#2e2e2e" stroke-width="1.3" />
<text x="324.9" y="594.2" font-size="13.8" text-anchor="middle" font-weight="normal" fill="#1a1a1a" stroke="#1a1a1a" stroke-width="0.3" >1600</text>
<line x1="397.5" y1="574.4" x2="397.5" y2="578.9" stroke="#2e2e2e" stroke-width="1.3" />
<text x="397.5" y="594.2" font-size="13.8" text-anchor="middle" font-weight="normal" fill="#1a1a1a" stroke="#1a1a1a" stroke-width="0.3" >2000</text>
<text x="234.5" y="618" font-size="16.1" text-anchor="middle" font-weight="normal" fill="#1a1a1a" stroke="#1a1a1a" stroke-width="0.3" >YS (MPa)</text>
<text transform="translate(16.6,514.6) rotate(-90)" font-size="16" fill="#1a1a1a" stroke="#1a1a1a" stroke-width="0.3">El × UTS (MPa%)</text>
<rect x="150.75" y="349.75" width="6.9" height="6.9" fill="#f5901f"/>
<rect x="191.95" y="353.25" width="6.9" height="6.9" fill="#f5901f"/>
<rect x="151.05" y="398.15" width="6.9" height="6.9" fill="#f5901f"/>
<rect x="135.85" y="407.85" width="6.9" height="6.9" fill="#f5901f"/>
<rect x="150.15" y="413.35" width="6.9" height="6.9" fill="#f5901f"/>
<rect x="150.15" y="417.75" width="6.9" height="6.9" fill="#f5901f"/>
<rect x="154.75" y="415.15" width="6.9" height="6.9" fill="#f5901f"/>
<rect x="141.05" y="425.75" width="6.9" height="6.9" fill="#f5901f"/>
<rect x="128.45" y="430.25" width="6.9" height="6.9" fill="#f5901f"/>
<rect x="148.75" y="434.05" width="6.9" height="6.9" fill="#f5901f"/>
<rect x="173.95" y="437.45" width="6.9" height="6.9" fill="#f5901f"/>
<path d="M171.2,383 L180.8,383 L176,391.2 Z" fill="#a45fee"/>
<path d="M184.2,397.1 L193.8,397.1 L189,405.3 Z" fill="#a45fee"/>
<path d="M186.5,406.8 L196.1,406.8 L191.3,415 Z" fill="#a45fee"/>
<path d="M185.2,420 L194.8,420 L190,428.2 Z" fill="#a45fee"/>
<path d="M115.1,418.7 L124.7,418.7 L119.9,426.9 Z" fill="#a45fee"/>
<path d="M83.6,428.5 L93.2,428.5 L88.4,436.7 Z" fill="#a45fee"/>
<path d="M105.2,430.4 L114.8,430.4 L110,438.6 Z" fill="#a45fee"/>
<path d="M83.6,443 L93.2,443 L88.4,451.2 Z" fill="#a45fee"/>
<path d="M87.4,448.8 L97,448.8 L92.2,457 Z" fill="#a45fee"/>
<path d="M81.6,455.6 L91.2,455.6 L86.4,463.8 Z" fill="#a45fee"/>
<path d="M117.4,455.6 L127,455.6 L122.2,463.8 Z" fill="#a45fee"/>
<path d="M141.6,448.4 L151.2,448.4 L146.4,456.6 Z" fill="#a45fee"/>
<path d="M183.2,455.6 L192.8,455.6 L188,463.8 Z" fill="#a45fee"/>
<path d="M190.9,461.4 L200.5,461.4 L195.7,469.6 Z" fill="#a45fee"/>
<path d="M123.2,472 L132.8,472 L128,480.2 Z" fill="#a45fee"/>
<path d="M133.3,471 L142.9,471 L138.1,479.2 Z" fill="#a45fee"/>
<path d="M212.5,490.7 L217.5,495.7 L212.5,500.7 L207.5,495.7 Z" fill="#e2a92e"/>
<path d="M228.7,497 L233.7,502 L228.7,507 L223.7,502 Z" fill="#e2a92e"/>
<path d="M243.4,486.1 L248.4,491.1 L243.4,496.1 L238.4,491.1 Z" fill="#e2a92e"/>
<path d="M294.3,504.3 L299.3,509.3 L294.3,514.3 L289.3,509.3 Z" fill="#e2a92e"/>
<path d="M304.6,503.5 L309.6,508.5 L304.6,513.5 L299.6,508.5 Z" fill="#e2a92e"/>
<path d="M291,513.8 L296,518.8 L291,523.8 L286,518.8 Z" fill="#e2a92e"/>
<path d="M281.4,531.8 L291,531.8 L286.2,523.6 Z" fill="#22b47a"/>
<path d="M295.4,531.8 L305,531.8 L300.2,523.6 Z" fill="#22b47a"/>
<path d="M307.6,539.1 L317.2,539.1 L312.4,530.9 Z" fill="#22b47a"/>
<path d="M298.1,542.6 L307.7,542.6 L302.9,534.4 Z" fill="#22b47a"/>
<path d="M335,539.1 L344.6,539.1 L339.8,530.9 Z" fill="#22b47a"/>
<path d="M358,552.6 L367.6,552.6 L362.8,544.4 Z" fill="#22b47a"/>
<path d="M376.4,551.3 L386,551.3 L381.2,543.1 Z" fill="#22b47a"/>
<text x="94" y="378.2" font-size="15.6" text-anchor="start" font-weight="bold" fill="#ec8234" stroke="#ec8234" stroke-width="0.15" >H/MEAs</text>
<text x="119.8" y="498" font-size="15.6" text-anchor="middle" font-weight="bold" fill="#a763e4" stroke="#a763e4" stroke-width="0.15" >Austenite</text>
<text x="119.8" y="516.2" font-size="15.6" text-anchor="middle" font-weight="bold" fill="#a763e4" stroke="#a763e4" stroke-width="0.15" >steels</text>
<text x="155.8" y="524.4" font-size="15.6" text-anchor="start" font-weight="bold" fill="#e2ac36" stroke="#e2ac36" stroke-width="0.15" >Ni superalloys</text>
<text x="329.2" y="518.8" font-size="15.6" text-anchor="start" font-weight="bold" fill="#1d9a68" stroke="#1d9a68" stroke-width="0.15" >Ti alloys</text>
<text x="278.6" y="360.1" font-size="15.6" text-anchor="start" font-weight="bold" fill="#2a97e2" stroke="#2a97e2" stroke-width="0.15" >This work</text>
<path d="M274.2,365.5 L276.35,371.24 L282.47,371.51 L277.68,375.33 L279.31,381.24 L274.2,377.85 L269.09,381.24 L270.72,375.33 L265.93,371.51 L272.05,371.24 Z" fill="#1a8cf0"/>
<path d="M265.8,390.5 L262.9,405.8 L259.8,403.3 L230.1,443.5 L255.1,400.2 L252,397.7 Z" fill="url(#arc)"/>
<text x="425.3" y="329.2" font-size="18" text-anchor="start" font-weight="bold" fill="#111" stroke="#111" stroke-width="0.15" >d</text>
<rect x="483.5" y="329" width="324.7" height="245.6" fill="url(#bgd)"/>
<g filter="url(#soft)">
<ellipse cx="566" cy="519.5" rx="77" ry="44" transform="rotate(34 566 519.5)" fill="#f9f0d8"/>
<ellipse cx="653" cy="397" rx="138" ry="33" transform="rotate(-26 653 397)" fill="#f2eafb" opacity="0.92"/>
<ellipse cx="619" cy="447" rx="28" ry="18" transform="rotate(14 619 447)" fill="#e2efe6"/>
</g>
<line x1="482.9" y1="329" x2="482.9" y2="575.2" stroke="#2e2e2e" stroke-width="1.3" />
<line x1="482.3" y1="574.6" x2="809.3" y2="574.6" stroke="#2e2e2e" stroke-width="1.3" />
<line x1="478.3" y1="547.3" x2="482.9" y2="547.3" stroke="#2e2e2e" stroke-width="1.3" />
<text x="475.2" y="551.6" font-size="13.8" text-anchor="end" font-weight="normal" fill="#1a1a1a" stroke="#1a1a1a" stroke-width="0.3" >100</text>
<line x1="478.3" y1="492.8" x2="482.9" y2="492.8" stroke="#2e2e2e" stroke-width="1.3" />
<text x="475.2" y="497.1" font-size="13.8" text-anchor="end" font-weight="normal" fill="#1a1a1a" stroke="#1a1a1a" stroke-width="0.3" >200</text>
<line x1="478.3" y1="438.3" x2="482.9" y2="438.3" stroke="#2e2e2e" stroke-width="1.3" />
<text x="475.2" y="442.6" font-size="13.8" text-anchor="end" font-weight="normal" fill="#1a1a1a" stroke="#1a1a1a" stroke-width="0.3" >300</text>
<line x1="478.3" y1="383.8" x2="482.9" y2="383.8" stroke="#2e2e2e" stroke-width="1.3" />
<text x="475.2" y="388.1" font-size="13.8" text-anchor="end" font-weight="normal" fill="#1a1a1a" stroke="#1a1a1a" stroke-width="0.3" >400</text>
<line x1="478.3" y1="329.3" x2="482.9" y2="329.3" stroke="#2e2e2e" stroke-width="1.3" />
<text x="475.2" y="333.6" font-size="13.8" text-anchor="end" font-weight="normal" fill="#1a1a1a" stroke="#1a1a1a" stroke-width="0.3" >500</text>
<line x1="498.6" y1="574.6" x2="498.6" y2="579.1" stroke="#2e2e2e" stroke-width="1.3" />
<text x="498.6" y="594.2" font-size="13.8" text-anchor="middle" font-weight="normal" fill="#1a1a1a" stroke="#1a1a1a" stroke-width="0.3" >1200</text>
<line x1="560.7" y1="574.6" x2="560.7" y2="579.1" stroke="#2e2e2e" stroke-width="1.3" />
<text x="560.7" y="594.2" font-size="13.8" text-anchor="middle" font-weight="normal" fill="#1a1a1a" stroke="#1a1a1a" stroke-width="0.3" >1400</text>
<line x1="622.8" y1="574.6" x2="622.8" y2="579.1" stroke="#2e2e2e" stroke-width="1.3" />
<text x="622.8" y="594.2" font-size="13.8" text-anchor="middle" font-weight="normal" fill="#1a1a1a" stroke="#1a1a1a" stroke-width="0.3" >1600</text>
<line x1="684.9" y1="574.6" x2="684.9" y2="579.1" stroke="#2e2e2e" stroke-width="1.3" />
<text x="684.9" y="594.2" font-size="13.8" text-anchor="middle" font-weight="normal" fill="#1a1a1a" stroke="#1a1a1a" stroke-width="0.3" >1800</text>
<line x1="747" y1="574.6" x2="747" y2="579.1" stroke="#2e2e2e" stroke-width="1.3" />
<text x="747" y="594.2" font-size="13.8" text-anchor="middle" font-weight="normal" fill="#1a1a1a" stroke="#1a1a1a" stroke-width="0.3" >2000</text>
<line x1="809.1" y1="574.6" x2="809.1" y2="579.1" stroke="#2e2e2e" stroke-width="1.3" />
<text x="809.1" y="594.2" font-size="13.8" text-anchor="middle" font-weight="normal" fill="#1a1a1a" stroke="#1a1a1a" stroke-width="0.3" >2200</text>
<text x="646.3" y="618" font-size="16.1" text-anchor="middle" font-weight="normal" fill="#1a1a1a" stroke="#1a1a1a" stroke-width="0.3" >UTS (MPa)</text>
<text transform="translate(437.2,544.2) rotate(-90)" font-size="16" fill="#1a1a1a" stroke="#1a1a1a" stroke-width="0.3">Stress drop at UTS (MPa)</text>
<rect x="563.95" y="477.05" width="6.9" height="6.9" fill="#f5901f"/>
<rect x="533.05" y="483.15" width="6.9" height="6.9" fill="#f5901f"/>
<rect x="529.65" y="489.35" width="6.9" height="6.9" fill="#f5901f"/>
<rect x="548.75" y="487.15" width="6.9" height="6.9" fill="#f5901f"/>
<rect x="510.65" y="506.65" width="6.9" height="6.9" fill="#f5901f"/>
<rect x="527.45" y="512.45" width="6.9" height="6.9" fill="#f5901f"/>
<rect x="547.35" y="523.45" width="6.9" height="6.9" fill="#f5901f"/>
<rect x="592.15" y="544.25" width="6.9" height="6.9" fill="#f5901f"/>
<rect x="612.15" y="545.85" width="6.9" height="6.9" fill="#f5901f"/>
<path d="M573.1,435.6 L582.7,435.6 L577.9,443.8 Z" fill="#a45fee"/>
<path d="M563,463 L572.6,463 L567.8,471.2 Z" fill="#a45fee"/>
<path d="M607,431.6 L616.6,431.6 L611.8,439.8 Z" fill="#a45fee"/>
<path d="M634.6,386.5 L644.2,386.5 L639.4,394.7 Z" fill="#a45fee"/>
<path d="M656.1,373.2 L665.7,373.2 L660.9,381.4 Z" fill="#a45fee"/>
<path d="M664.1,371 L673.7,371 L668.9,379.2 Z" fill="#a45fee"/>
<path d="M668.5,366 L678.1,366 L673.3,374.2 Z" fill="#a45fee"/>
<path d="M685.2,352.7 L694.8,352.7 L690,360.9 Z" fill="#a45fee"/>
<path d="M706.9,346.9 L716.5,346.9 L711.7,355.1 Z" fill="#a45fee"/>
<path d="M706.9,364.3 L716.5,364.3 L711.7,372.5 Z" fill="#a45fee"/>
<path d="M743.9,343.2 L753.5,343.2 L748.7,351.4 Z" fill="#a45fee"/>
<path d="M604.7,444.3 L614.3,444.3 L609.5,436.1 Z" fill="#22b47a"/>
<path d="M613.7,446.5 L623.3,446.5 L618.5,438.3 Z" fill="#22b47a"/>
<path d="M628.3,457.3 L637.9,457.3 L633.1,449.1 Z" fill="#22b47a"/>
<text x="496" y="555.1" font-size="15.6" text-anchor="start" font-weight="bold" fill="#ec8234" stroke="#ec8234" stroke-width="0.15" >H/MEAs</text>
<text x="759" y="373.7" font-size="15.6" text-anchor="middle" font-weight="bold" fill="#a763e4" stroke="#a763e4" stroke-width="0.15" >Austenite</text>
<text x="759" y="392.6" font-size="15.6" text-anchor="middle" font-weight="bold" fill="#a763e4" stroke="#a763e4" stroke-width="0.15" >steels</text>
<text x="633.6" y="442.1" font-size="15.6" text-anchor="start" font-weight="bold" fill="#1d9a68" stroke="#1d9a68" stroke-width="0.15" >Ti alloys</text>
<text x="726.4" y="530.9" font-size="15.6" text-anchor="start" font-weight="bold" fill="#2a97e2" stroke="#2a97e2" stroke-width="0.15" >This work</text>
<path d="M775,539.2 L777.17,545.01 L783.37,545.28 L778.52,549.14 L780.17,555.12 L775,551.7 L769.83,555.12 L771.48,549.14 L766.63,545.28 L772.83,545.01 Z" fill="#1a8cf0"/>
<path d="M718.4,518.4 L702.1,514 L704.8,510.5 L657.7,472 L707.8,505.8 L710.1,502.1 Z" fill="url(#ard)"/>
<g>
<ellipse cx="524.8" cy="588.6" rx="9.9" ry="8.6" fill="#b6b6b6"/>
<path d="M518.6,594.5 L517.6,599.2 L523.5,596.6 Z" fill="#b6b6b6"/>
<ellipse cx="534.7" cy="595.5" rx="9.2" ry="7.9" fill="#b6b6b6" stroke="#fff" stroke-width="1.2"/>
<path d="M539.2,601.8 L541.6,604.6 L541.8,600.6 Z" fill="#b6b6b6"/>
<circle cx="521.1" cy="586.1" r="1.25" fill="#fff"/><circle cx="528.3" cy="586.1" r="1.25" fill="#fff"/>
<circle cx="531.7" cy="593.3" r="1.15" fill="#fff"/><circle cx="538" cy="593.3" r="1.15" fill="#fff"/>
</g>
<text x="551.5" y="600.2" font-size="22.4" fill="#8e8e8e" fill-opacity="0.72" font-family="'Noto Sans CJK SC', 'WenQuanYi Zen Hei', sans-serif">公众号</text>
<text x="641.2" y="600.2" font-size="22.4" fill="#8e8e8e" fill-opacity="0.72" font-family="'Noto Sans CJK SC', 'WenQuanYi Zen Hei', sans-serif">材料强化与防护</text>
</svg></body></html>
